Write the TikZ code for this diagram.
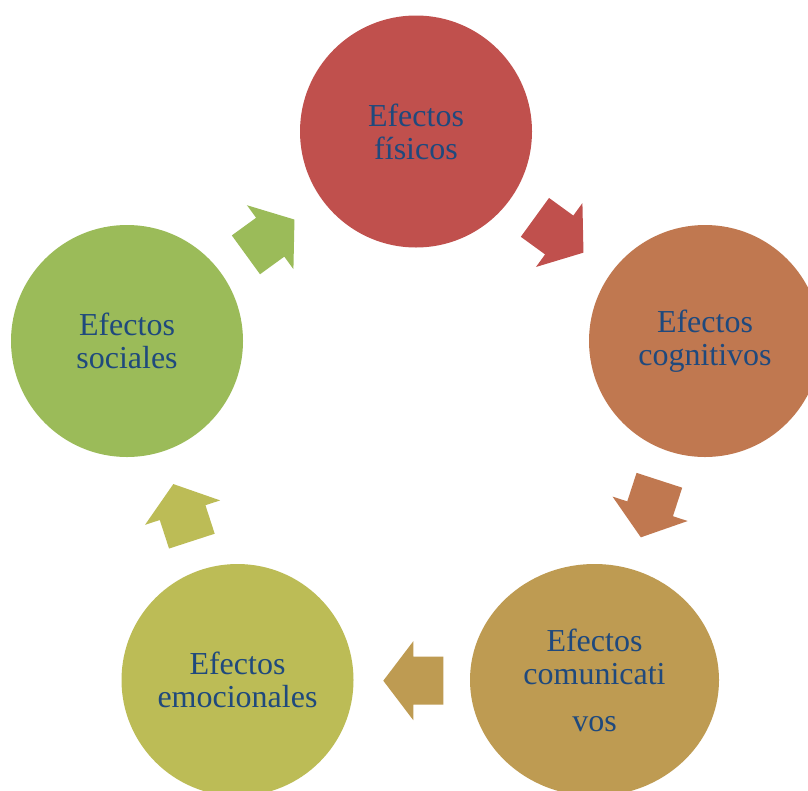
\documentclass[tikz,border=0pt]{standalone}
\usepackage{fontspec}
\setmainfont{Liberation Serif}
\usetikzlibrary{shapes.geometric}
\definecolor{cfis}{HTML}{C0504D}
\definecolor{ccog}{HTML}{C07850}
\definecolor{ccom}{HTML}{BE9B52}
\definecolor{cemo}{HTML}{BCBC56}
\definecolor{csoc}{HTML}{9BBB59}
\definecolor{ctxt}{HTML}{1F497D}
\newcommand\cyclearrow[4]{%
  \begin{scope}[shift={(#1,#2)},rotate=-#3]
    \fill[#4] (-30,-24) -- (0,-24) -- (0,-39.5) -- (30,0) -- (0,39.5) -- (0,24) -- (-30,24) -- cycle;
  \end{scope}}
\begin{document}
\begin{tikzpicture}[x=1pt,y=-1pt,
  bubble/.style={circle,inner sep=0pt,minimum size=232pt,text=ctxt,align=center,
    font=\fontsize{32}{33}\selectfont}]
\useasboundingbox (0,0) rectangle (808,790);
\clip (0,0) rectangle (808,790);
\fill[white] (0,0) rectangle (808,790);
\node[bubble,fill=cfis] (fis) at (416,131.5) {Efectos\\físicos};
\node[bubble,fill=ccog] (cog) at (705,341) {Efectos\\cognitivos};
\node[bubble,ellipse,minimum width=249pt,minimum height=232pt,fill=ccom] (com) at (594.5,680) {Efectos\\comunicati\\[14pt]vos};
\node[bubble,fill=cemo] (emo) at (237.5,680) {Efectos\\emocionales};
\node[bubble,fill=csoc] (soc) at (127,341) {Efectos\\sociales};
\cyclearrow{559.2}{235}{36}{cfis}
\cyclearrow{650.1}{508.8}{108}{ccog}
\cyclearrow{413.3}{680.7}{180}{ccom}
\cyclearrow{182.6}{512.6}{252}{cemo}
\cyclearrow{270.2}{237.2}{324}{csoc}
\end{tikzpicture}
\end{document}
